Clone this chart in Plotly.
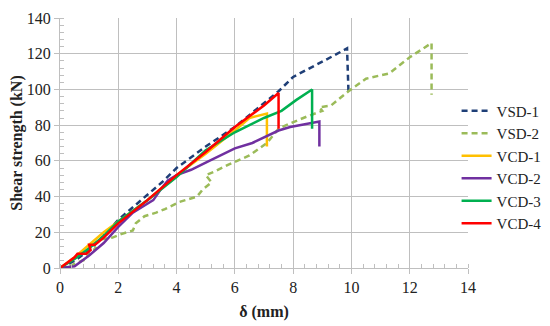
import plotly.graph_objects as go

# VSD-1
vsd1_x = [0, 0.5, 1.0, 1.5, 2.0, 2.5, 3.0, 3.5, 4.0, 5.0, 6.0, 7.0, 7.5, 8.0, 8.6, 9.4, 9.85, 9.9]
vsd1_y = [0, 4, 10, 18, 27, 34, 41, 48, 56, 68, 79, 92, 99, 107, 112, 119, 123, 98]
# VSD-2
vsd2_x = [0, 0.3, 0.6, 0.9, 1.0, 1.25, 1.1, 1.4, 1.8, 2.1, 2.5, 2.6, 2.9, 3.3, 3.6, 4.1, 4.7, 4.9, 5.2, 5.0, 5.3, 5.8, 6.5, 7.1, 7.5, 7.9, 8.5, 9.0, 8.9, 9.3, 9.9, 10.5, 11.3, 11.6, 12.0, 12.75, 12.75]
vsd2_y = [0, 1, 3, 5, 9, 11, 13, 16, 17, 19, 21, 25, 29, 31, 33, 37, 40, 44, 48, 52, 54, 58, 63, 70, 78, 81, 85, 88, 90, 91, 99, 106, 109, 113, 118, 126, 97]
# VCD-1
vcd1_x = [0, 0.5, 1.0, 1.5, 2.0, 3.0, 4.0, 5.0, 6.0, 6.5, 7.1, 7.1]
vcd1_y = [0, 6, 13, 20, 26, 38, 52, 64, 77, 84, 86.5, 68]
# VCD-2
vcd2_x = [0, 0.5, 1.0, 1.5, 2.0, 2.5, 2.9, 3.2, 3.5, 3.7, 4.0, 4.5, 5.0, 6.0, 6.6, 7.5, 7.9, 8.85, 8.9, 8.9]
vcd2_y = [0, 1, 7, 14, 23, 31, 35, 38, 45, 49, 52, 55, 59, 67, 70, 77, 79, 82, 82, 68]
# VCD-3
vcd3_x = [0, 0.5, 1.0, 1.5, 2.0, 3.0, 4.0, 5.0, 6.0, 7.0, 7.6, 8.1, 8.65, 8.65]
vcd3_y = [0, 5, 11, 18, 26, 38, 51, 66, 76, 84, 88, 94, 100, 78]
# VCD-4
vcd4_x = [0, 0.5, 0.6, 0.9, 1.05, 1.0, 1.2, 1.5, 2.0, 3.0, 4.0, 5.0, 6.0, 7.0, 7.5, 7.5]
vcd4_y = [0, 6, 8, 8, 10, 13, 13, 17, 25, 38, 52, 65, 79, 91, 98, 78]

series = [
    ("VSD-1", vsd1_x, vsd1_y, "#1F3F77", "6px,4px"),
    ("VSD-2", vsd2_x, vsd2_y, "#9BBB59", "6px,4px"),
    ("VCD-1", vcd1_x, vcd1_y, "#FFC000", "solid"),
    ("VCD-2", vcd2_x, vcd2_y, "#7030A0", "solid"),
    ("VCD-3", vcd3_x, vcd3_y, "#00B050", "solid"),
    ("VCD-4", vcd4_x, vcd4_y, "#FF0000", "solid"),
]

fig = go.Figure()
for name, xs, ys, col, dash in series:
    fig.add_trace(go.Scatter(x=xs, y=ys, mode="lines", name=name,
                             line=dict(color=col, width=2.5, dash=dash)))

font = "Liberation Serif"
axis_common = dict(
    showgrid=True, gridcolor="#BFBFBF", gridwidth=1,
    showline=True, linecolor="#BFBFBF", linewidth=1,
    ticks="outside", ticklen=5, tickcolor="#BFBFBF",
    zeroline=False, automargin=False,
    tickfont=dict(family=font, size=16, color="#222"),
)
fig.update_layout(
    width=542, height=318,
    margin=dict(l=52, r=82, t=10, b=58, autoexpand=False),
    paper_bgcolor="white", plot_bgcolor="white",
    xaxis=dict(range=[0, 14], dtick=2, tick0=0,
               title=dict(text="<b>δ (mm)</b>", font=dict(family=font, size=16, color="#222"), standoff=10),
               minor=dict(dtick=0.4, ticks="inside", ticklen=4, tickcolor="#BFBFBF", showgrid=False),
               **axis_common),
    yaxis=dict(range=[0, 140], dtick=20, tick0=0,
               title=dict(text="<b>Shear strength (kN)</b>", font=dict(family=font, size=16, color="#222"), standoff=6),
               minor=dict(dtick=4, ticks="inside", ticklen=4, tickcolor="#BFBFBF", showgrid=False),
               **axis_common),
    legend=dict(x=0.972, y=0.404, xanchor="left", yanchor="middle",
                font=dict(family=font, size=15, color="#222"),
                tracegroupgap=0, itemwidth=30, bgcolor="rgba(0,0,0,0)"),
    showlegend=True,
)

fig.write_html("out.html")
